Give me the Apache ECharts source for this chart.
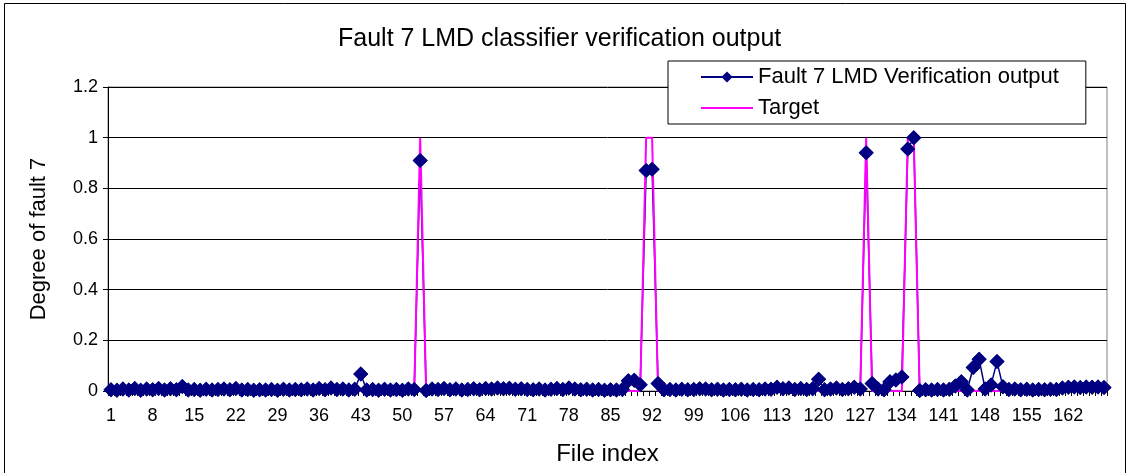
<!DOCTYPE html>
<html>
<head>
<meta charset="utf-8">
<script src="https://cdn.jsdelivr.net/npm/echarts@6/dist/echarts.min.js"></script>
<style>
  html, body { margin: 0; padding: 0; background: #fff; }
  #chart { width: 1130px; height: 473px; }
</style>
</head>
<body>
<div id="chart"></div>
<script>
// file index 1..168
var fileIndex = [];
for (var i = 1; i <= 168; i++) fileIndex.push(String(i));

// classifier output (one row = 14 files)
var verification = [
  0.005, 0.003, 0.008, 0.004, 0.010, 0.003, 0.008, 0.005, 0.010, 0.004, 0.009, 0.005, 0.018, 0.004,
  0.006, 0.003, 0.007, 0.004, 0.006, 0.008, 0.005, 0.010, 0.004, 0.006, 0.003, 0.005, 0.004, 0.006,
  0.003, 0.007, 0.004, 0.006, 0.005, 0.008, 0.004, 0.010, 0.005, 0.012, 0.006, 0.008, 0.004, 0.007,
  0.067, 0.004, 0.006, 0.003, 0.007, 0.004, 0.006, 0.003, 0.008, 0.006, 0.910, 0.002, 0.008, 0.006,
  0.010, 0.005, 0.008, 0.004, 0.006, 0.009, 0.005, 0.010, 0.008, 0.012, 0.009, 0.011, 0.007, 0.009,
  0.006, 0.005, 0.008, 0.004, 0.007, 0.010, 0.006, 0.012, 0.008, 0.005, 0.007, 0.004, 0.006, 0.003,
  0.005, 0.004, 0.006, 0.040, 0.042, 0.025, 0.870, 0.875, 0.030, 0.005, 0.006, 0.004, 0.007, 0.005,
  0.006, 0.009, 0.008, 0.005, 0.007, 0.004, 0.006, 0.005, 0.007, 0.004, 0.006, 0.005, 0.008, 0.007,
  0.015, 0.009, 0.012, 0.006, 0.010, 0.006, 0.009, 0.046, 0.005, 0.008, 0.012, 0.006, 0.009, 0.015,
  0.008, 0.940, 0.030, 0.008, 0.005, 0.037, 0.043, 0.055, 0.955, 1.000, 0.002, 0.005, 0.004, 0.006,
  0.004, 0.007, 0.020, 0.037, 0.004, 0.093, 0.125, 0.008, 0.024, 0.116, 0.017, 0.006, 0.008, 0.005,
  0.007, 0.004, 0.006, 0.005, 0.007, 0.006, 0.012, 0.015, 0.016, 0.014, 0.016, 0.015, 0.016, 0.014
];

// target degree of fault 7
var target = [
  0, 0, 0, 0, 0, 0, 0, 0, 0, 0, 0, 0, 0, 0,
  0, 0, 0, 0, 0, 0, 0, 0, 0, 0, 0, 0, 0, 0,
  0, 0, 0, 0, 0, 0, 0, 0, 0, 0, 0, 0, 0, 0,
  0, 0, 0, 0, 0, 0, 0, 0, 0, 0, 1, 0, 0, 0,
  0, 0, 0, 0, 0, 0, 0, 0, 0, 0, 0, 0, 0, 0,
  0, 0, 0, 0, 0, 0, 0, 0, 0, 0, 0, 0, 0, 0,
  0, 0, 0, 0, 0, 0, 1, 1, 0, 0, 0, 0, 0, 0,
  0, 0, 0, 0, 0, 0, 0, 0, 0, 0, 0, 0, 0, 0,
  0, 0, 0, 0, 0, 0, 0, 0, 0, 0, 0, 0, 0, 0,
  0, 1, 0, 0, 0, 0, 0, 0, 1, 1, 0, 0, 0, 0,
  0, 0, 0, 0, 0, 0, 0, 0, 0, 0, 0, 0, 0, 0,
  0, 0, 0, 0, 0, 0, 0, 0, 0, 0, 0, 0, 0, 0
];

var yTicks = { min: 0, max: 1.2, step: 0.2 };

var font = 'Liberation Sans';
var outName = 'Fault 7 LMD Verification output';
var myChart = echarts.init(document.getElementById('chart'));

var option = {
  backgroundColor: '#fff',
  animation: false,
  textStyle: { fontFamily: font },
  graphic: [{
    type: 'rect',
    shape: { x: 4.5, y: 3.5, width: 1121, height: 490 },
    style: { fill: 'none', stroke: '#000', lineWidth: 1 },
    silent: true
  }],
  title: {
    text: 'Fault 7 LMD classifier verification output',
    left: 333,
    top: 22,
    textStyle: { fontSize: 25, fontWeight: 'normal', color: '#000', fontFamily: font }
  },
  legend: {
    orient: 'vertical',
    left: 668,
    top: 61,
    padding: [5, 27, 5, 32],
    itemWidth: 52,
    itemHeight: 14,
    itemGap: 9,
    backgroundColor: '#fff',
    borderColor: '#000',
    borderWidth: 1,
    textStyle: { fontSize: 22, color: '#000', fontFamily: font },
    data: [
      { name: outName },
      { name: 'Target', itemStyle: { opacity: 0 } }
    ]
  },
  grid: {
    left: 108,
    right: 23,
    top: 87,
    bottom: 82,
    show: true,
    borderColor: '#808080',
    borderWidth: 1
  },
  xAxis: {
    type: 'category',
    data: fileIndex,
    boundaryGap: true,
    name: 'File index',
    nameLocation: 'middle',
    nameGap: 51,
    nameTextStyle: { fontSize: 24, color: '#000', fontFamily: font },
    axisLine: { lineStyle: { color: '#000', width: 1 } },
    axisTick: { show: true, interval: 0, length: 5, lineStyle: { color: '#000' } },
    axisLabel: { interval: 6, fontSize: 18, color: '#000', margin: 16, fontFamily: font },
    splitLine: { show: false }
  },
  yAxis: {
    type: 'value',
    min: yTicks.min,
    max: yTicks.max,
    interval: yTicks.step,
    name: 'Degree of fault 7',
    nameLocation: 'middle',
    nameGap: 58,
    nameTextStyle: { fontSize: 22, color: '#000', fontFamily: font },
    axisLine: { show: true, lineStyle: { color: '#000', width: 1 } },
    axisTick: { show: true, length: 5, lineStyle: { color: '#000' } },
    axisLabel: { fontSize: 18, color: '#000', margin: 10, fontFamily: font },
    splitLine: { show: true, lineStyle: { color: '#000', width: 1 } }
  },
  series: [
    {
      // navy line (markers drawn again on top below, like Excel does)
      name: outName,
      type: 'line',
      data: verification,
      symbol: 'diamond',
      symbolSize: 15,
      showAllSymbol: true,
      z: 1,
      lineStyle: { color: '#000080', width: 1.5 },
      itemStyle: { color: '#000080' }
    },
    {
      name: 'Target',
      type: 'line',
      data: target,
      symbol: 'none',
      z: 2,
      lineStyle: { color: '#ff00ff', width: 2 },
      itemStyle: { color: '#ff00ff' }
    },
    {
      name: outName,
      type: 'scatter',
      data: verification,
      symbol: 'diamond',
      symbolSize: 15,
      z: 3,
      itemStyle: { color: '#000080', opacity: 1 }
    }
  ]
};

myChart.setOption(option);
</script>
</body>
</html>
